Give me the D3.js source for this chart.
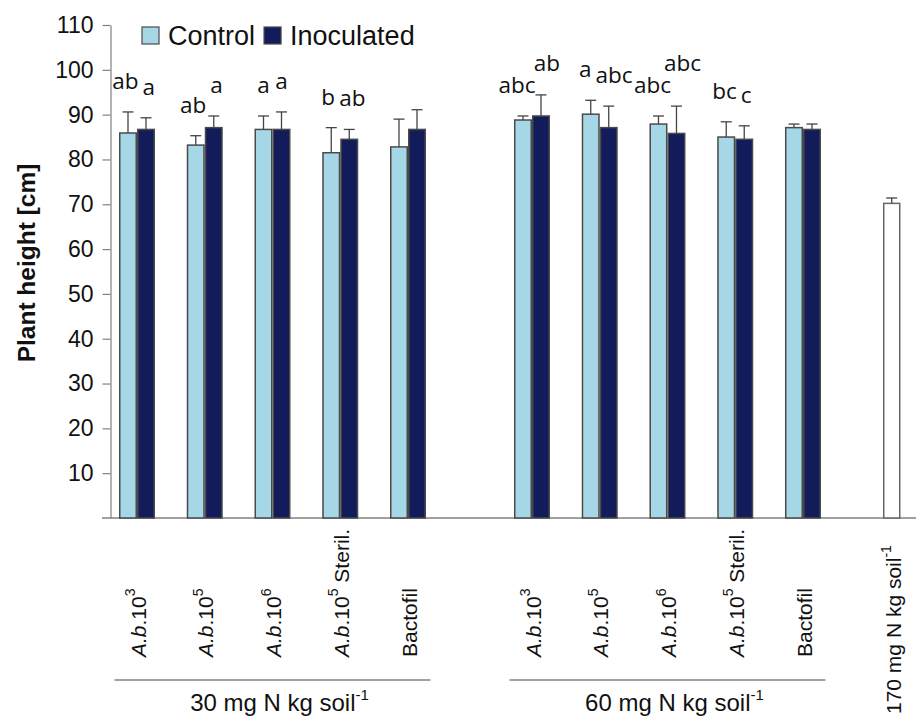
<!DOCTYPE html>
<html>
<head>
<meta charset="utf-8">
<script src="https://cdn.jsdelivr.net/npm/d3@7/dist/d3.min.js"></script>
<style>
  html, body { margin: 0; padding: 0; background: #fff; }
  svg { display: block; }
</style>
</head>
<body>
<svg id="chart" width="916" height="718"></svg>
<script>
// ---- data ----
const treatments = ["A.b.10^3", "A.b.10^5", "A.b.10^6", "A.b.10^5 Steril.", "Bactofil"];
const nLevels = ["30 mg N kg soil", "60 mg N kg soil"];
const seriesNames = ["Control", "Inoculated"];

const control30 = [85.9, 83.2, 86.7, 81.5, 82.8];
const control30Err = [4.7, 2.1, 3.0, 5.6, 6.2];
const inoculated30 = [86.7, 87.1, 86.7, 84.5, 86.7];
const inoculated30Err = [2.6, 2.6, 3.9, 2.2, 4.4];

const control60 = [88.8, 90.1, 87.9, 85.0, 87.1];
const control60Err = [0.9, 3.1, 1.8, 3.4, 0.8];
const inoculated60 = [89.7, 87.1, 85.8, 84.5, 86.7];
const inoculated60Err = [4.7, 4.8, 6.1, 3.0, 1.2];

const control30Letters = ["ab", "ab", "a", "b", ""];
const inoculated30Letters = ["a", "a", "a", "ab", ""];
const control60Letters = ["abc", "a", "abc", "bc", ""];
const inoculated60Letters = ["ab", "abc", "abc", "c", ""];

const fullNLabel = "170 mg N kg soil";
const fullN = [70.2];
const fullNErr = [1.2];

const yTicks = [10, 20, 30, 40, 50, 60, 70, 80, 90, 100, 110];
const yTitle = "Plant height [cm]";

// ---- layout ----
const colors = { Control: "#a6d7e7", Inoculated: "#131c5a" };
const axisColor = "#808080";
const barStroke = "#4a4a4a";
const sans = "Liberation Sans, Arial, sans-serif";
const svg = d3.select("#chart");

const y = d3.scaleLinear().domain([0, 110]).range([518, 25]);
// slot positions along the category axis: two groups of five, then the 170 mg bar
const groupStart = [0, 5.83];
const fullNSlot = 11.14;
const x = d3.scaleLinear().domain([0, 1]).range([137, 204.75]);

const barW = 16.5, barGap = 0.75;

// axes
const yAxis = d3.axisLeft(y).tickValues(yTicks).tickSize(8).tickSizeOuter(0).tickPadding(9);
const gy = svg.append("g").attr("transform", "translate(110.5,0)").call(yAxis);
gy.select(".domain").attr("stroke", axisColor).attr("stroke-width", 1.2);
gy.selectAll(".tick line").attr("stroke", axisColor).attr("stroke-width", 1.2);
gy.selectAll(".tick text")
  .attr("font-family", sans)
  .attr("font-size", 23).attr("fill", "#111");

svg.append("line")
  .attr("x1", 102).attr("x2", 916)
  .attr("y1", y(0)).attr("y2", y(0))
  .attr("stroke", axisColor).attr("stroke-width", 1.4);

svg.append("text")
  .attr("transform", `translate(35,263) rotate(-90)`)
  .attr("text-anchor", "middle")
  .attr("font-family", sans)
  .attr("font-weight", "bold").attr("font-size", 24.5).attr("fill", "#111")
  .text(yTitle);

// build bar records
const groups = [
  { c: control30, ce: control30Err, cl: control30Letters, i: inoculated30, ie: inoculated30Err, il: inoculated30Letters },
  { c: control60, ce: control60Err, cl: control60Letters, i: inoculated60, ie: inoculated60Err, il: inoculated60Letters }
];
const bars = [];
const labelPairs = [];
groups.forEach((g, gi) => {
  treatments.forEach((t, ti) => {
    const cx = x(groupStart[gi] + ti);
    const cBar = { series: "Control", value: g.c[ti], err: g.ce[ti], letter: g.cl[ti],
                   x0: cx - barGap - barW, x1: cx - barGap, fill: colors.Control };
    const iBar = { series: "Inoculated", value: g.i[ti], err: g.ie[ti], letter: g.il[ti],
                   x0: cx + barGap, x1: cx + barGap + barW, fill: colors.Inoculated };
    bars.push(cBar, iBar);
    labelPairs.push([cBar, iBar]);
  });
});
fullN.forEach((v, k) => {
  const cx = x(fullNSlot);
  bars.push({ series: "170", value: v, err: fullNErr[k], letter: "",
              x0: cx - 8, x1: cx + 8, fill: "#ffffff" });
});

// bars
svg.append("g").selectAll("rect").data(bars).join("rect")
  .attr("x", d => d.x0).attr("width", d => d.x1 - d.x0)
  .attr("y", d => y(d.value)).attr("height", d => y(0) - y(d.value))
  .attr("fill", d => d.fill)
  .attr("stroke", d => d.series === "170" ? "#666" : barStroke)
  .attr("stroke-width", 1.5);

// upper error bars
const eb = svg.append("g").attr("stroke", "#444").attr("stroke-width", 1.3);
bars.forEach(d => {
  const cx = (d.x0 + d.x1) / 2;
  eb.append("line").attr("x1", cx).attr("x2", cx)
    .attr("y1", y(d.value)).attr("y2", y(d.value + d.err));
  eb.append("line").attr("x1", cx - 5.5).attr("x2", cx + 5.5)
    .attr("y1", y(d.value + d.err)).attr("y2", y(d.value + d.err));
});

// significance letters, nudged apart when a pair would collide
const lg = svg.append("g")
  .attr("font-family", "Open Sans, sans-serif").attr("font-size", 22.5).attr("fill", "#111")
  .attr("text-anchor", "middle");
labelPairs.forEach(pair => {
  const items = pair.filter(d => d.letter).map(d => {
    const t = lg.append("text").text(d.letter);
    return { node: t, cx: (d.x0 + d.x1) / 2, base: y(d.value + d.err) - 23,
             w: t.node().getComputedTextLength() };
  });
  if (items.length === 2) {
    const [a, b] = items;
    const overlapX = () => (a.cx + a.w / 2 + 2) - (b.cx - b.w / 2 - 2);
    const overlapY = () => Math.abs(a.base - b.base) < 22;
    const o = overlapX();
    if (o > 0 && overlapY()) {
      const s = Math.min(o / 2, 6);
      a.cx -= s; b.cx += s;
      if (overlapX() > 0) {
        if (a.base < b.base) a.base = Math.min(a.base, b.base - 22);
        else b.base = Math.min(b.base, a.base - 22);
      }
    }
  }
  items.forEach(it => it.node.attr("x", it.cx).attr("y", it.base));
});

// rotated category labels
function drawCategory(cx, label) {
  const m = label.match(/^(A\.b\.)(\d+)\^(\d+)(.*)$/);
  const t = svg.append("text")
    .attr("transform", `translate(${cx + 1},657) rotate(-90)`)
    .attr("dy", "0.36em")
    .attr("font-family", sans).attr("font-size", 21).attr("fill", "#111");
  if (m) {
    t.append("tspan").attr("font-style", "italic").text("A.b");
    t.append("tspan").text("." + m[2]);
    t.append("tspan").attr("font-size", 14).attr("dy", "-0.75em").text(m[3]);
    if (m[4]) t.append("tspan").attr("dy", "0.5em").text(m[4]);
  } else {
    t.text(label);
  }
}
groups.forEach((g, gi) => {
  treatments.forEach((t, ti) => drawCategory(x(groupStart[gi] + ti), t));
});

// group brackets and N-level labels
nLevels.forEach((lab, gi) => {
  const mid = (x(groupStart[gi]) + x(groupStart[gi] + treatments.length - 1)) / 2;
  svg.append("line").attr("x1", mid - 158).attr("x2", mid + 158)
    .attr("y1", 680).attr("y2", 680)
    .attr("stroke", axisColor).attr("stroke-width", 1.3);
  const t = svg.append("text").attr("x", mid + 7).attr("y", 711)
    .attr("text-anchor", "middle")
    .attr("font-family", sans).attr("font-size", 24).attr("fill", "#111");
  t.append("tspan").text(lab);
  t.append("tspan").attr("font-size", 15).attr("dy", "-0.75em").text("-1");
});

// 170 mg reference label
{
  const t = svg.append("text")
    .attr("transform", `translate(${x(fullNSlot) + 2},714) rotate(-90)`)
    .attr("dy", "0.36em")
    .attr("font-family", sans).attr("font-size", 21).attr("fill", "#111");
  t.append("tspan").text(fullNLabel);
  t.append("tspan").attr("font-size", 14).attr("dy", "-0.75em").text("-1");
}

// legend
{
  const lgd = svg.append("g");
  let lx = 142;
  seriesNames.forEach(name => {
    lgd.append("rect").attr("x", lx).attr("y", 27).attr("width", 17).attr("height", 17)
      .attr("fill", colors[name]).attr("stroke", barStroke).attr("stroke-width", 1.2);
    const t = lgd.append("text").attr("x", lx + 26).attr("y", 45)
      .attr("font-family", sans).attr("font-size", 27).attr("fill", "#111").text(name);
    lx += 26 + t.node().getComputedTextLength() + 9;
  });
}
</script>
</body>
</html>
